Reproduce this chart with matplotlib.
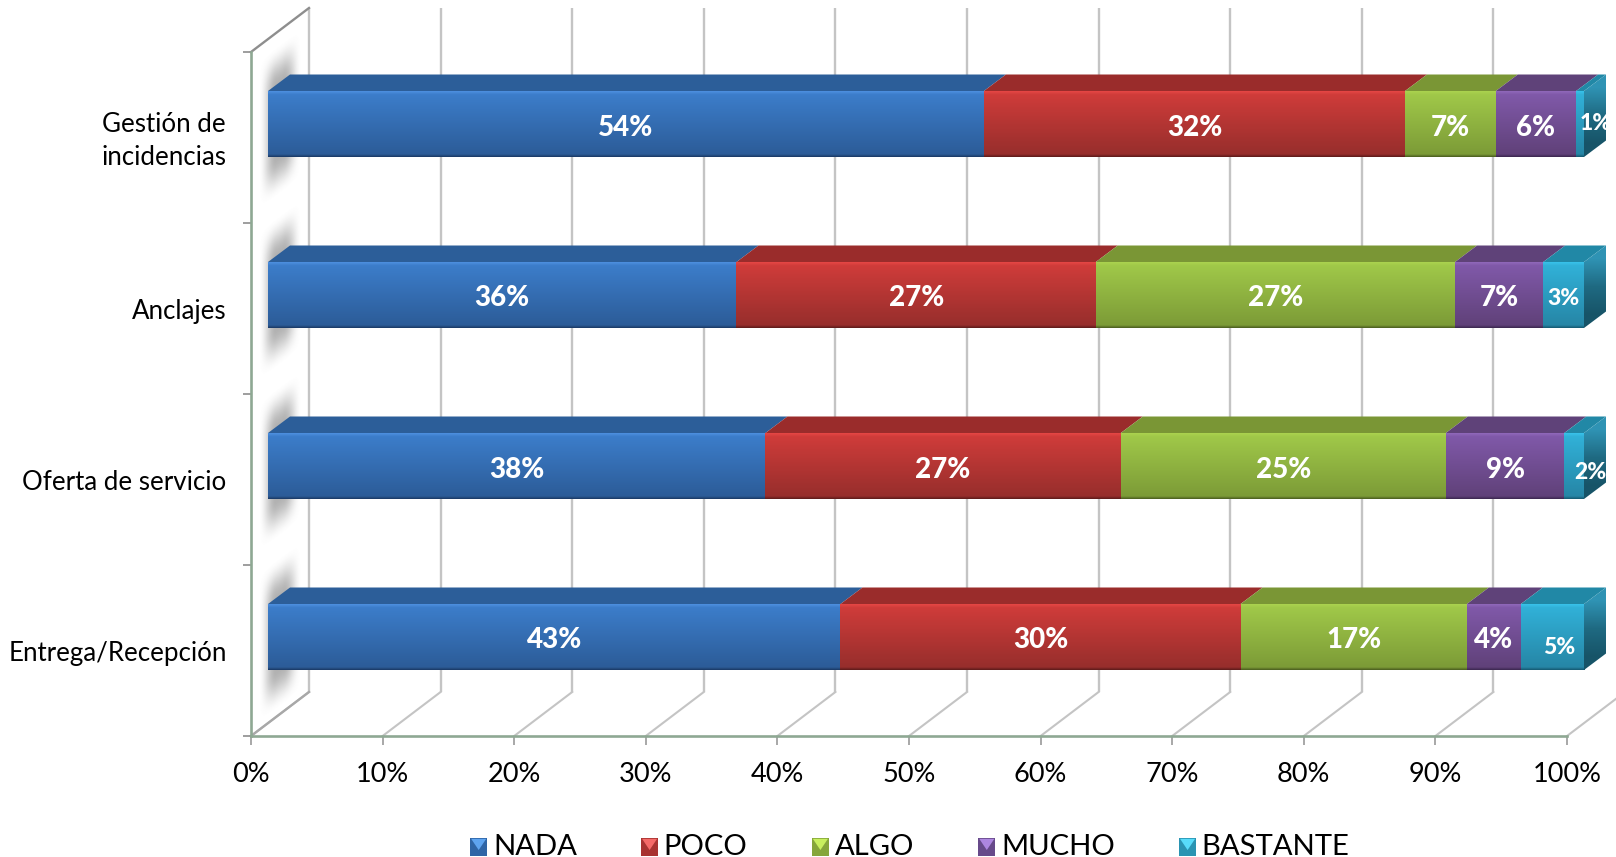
import numpy as np
import matplotlib
matplotlib.use("Agg")
import matplotlib.pyplot as plt
from matplotlib.colors import to_rgb
from matplotlib.legend_handler import HandlerBase
from matplotlib.patches import Patch, Polygon, Rectangle
from matplotlib.transforms import ScaledTranslation

plt.rcParams['font.family'] = ['Lato', 'DejaVu Sans']

categories = ['Entrega/Recepción', 'Oferta de servicio', 'Anclajes', 'Gestión de\nincidencias']
series_names = ['NADA', 'POCO', 'ALGO', 'MUCHO', 'BASTANTE']
nada = [43.5, 37.8, 35.6, 54.4]
poco = [30.4, 27.0, 27.3, 32.0]
algo = [17.2, 24.7, 27.3, 6.9]
mucho = [4.1, 9.0, 6.7, 6.1]
bastante = [4.8, 1.5, 3.1, 0.6]
nada_labels = ['43%', '38%', '36%', '54%']
poco_labels = ['30%', '27%', '27%', '32%']
algo_labels = ['17%', '25%', '27%', '7%']
mucho_labels = ['4%', '9%', '7%', '6%']
bastante_labels = ['5%', '2%', '3%', '1%']
x_ticks = [0, 10, 20, 30, 40, 50, 60, 70, 80, 90, 100]

values = [nada, poco, algo, mucho, bastante]
labels = [nada_labels, poco_labels, algo_labels, mucho_labels, bastante_labels]

W, H = 1616, 857
L_PX, R_PX, T_PX, B_PX = 251, 1567, 52, 736
PX_X = 100 / (R_PX - L_PX)
PX_Y = 4 / (B_PX - T_PX)

# front colours: highlight, top, bottom, edge; then top-face colour
styles = [
    ('#4d8fe0', '#3c7dca', '#2c5c98', '#1b3a66', '#2c5e99'),
    ('#e64745', '#cf3c3a', '#972e2c', '#5e1b1a', '#9a2c2b'),
    ('#abd24f', '#a0c849', '#7c9b37', '#4b5e20', '#7a9635'),
    ('#9068ba', '#8059a9', '#604179', '#3c2850', '#5f4279'),
    ('#38c2ea', '#31b1d8', '#2686a6', '#165a72', '#2188a6'),
]

fig = plt.figure(figsize=(W / 100, H / 100), dpi=100, facecolor='white')
ax = fig.add_axes([L_PX / W, 1 - B_PX / H, (R_PX - L_PX) / W, (B_PX - T_PX) / H])
ax.set_facecolor('none')

WALL_DX, WALL_DY = 58 * PX_X, 44 * PX_Y
BAR_OFF_X, BAR_OFF_Y = 17 * PX_X, 13.5 * PX_Y
BAR_DX, BAR_DY = 22 * PX_X, 16.5 * PX_Y
BAR_H = 66 * PX_Y


def gradient(stops, n=128):
    pos = [0, 0.05, 0.96, 1.0]
    rgb = np.array([to_rgb(s) for s in stops[:4]])
    t = np.linspace(0, 1, n)
    return np.stack([np.interp(t, pos, rgb[:, i]) for i in range(3)], axis=1)[:, None, :]


# walls and floor
for t in x_ticks:
    ax.plot([t + WALL_DX, t + WALL_DX], [-0.5 + WALL_DY, 3.5 + WALL_DY], color='#c4c4c4',
            lw=1.7, zorder=1, clip_on=False, solid_capstyle='butt')
    ax.plot([t, t + WALL_DX], [-0.5, -0.5 + WALL_DY], color='#c4c4c4',
            lw=1.5, zorder=1, clip_on=False)
ax.plot([0, WALL_DX], [3.5, 3.5 + WALL_DY], color='#8e8e8e', lw=1.7, zorder=1.5, clip_on=False)
ax.plot([0, WALL_DX], [-0.5, -0.5 + WALL_DY], color='#a8a8a8', lw=1.7, zorder=1.5, clip_on=False)

# soft shadow of each bar on the side wall
sx = np.arange(-8, 38, 1.0)
sy = np.arange(-92, 92, 1.0)
gx, gy = np.meshgrid(sx, sy)


def smooth(d, edge):
    v = np.clip(d / edge, 0, 1)
    return v * v * (3 - 2 * v)


u = np.abs(gx - 12)
v = np.abs(gy + 0.75 * gx - 4)
alpha = 0.55 * smooth(22 - u, 18) * smooth(76 - v, 40)
shadow = np.zeros(gx.shape + (4,))
shadow[..., :3] = 0.45
shadow[..., 3] = alpha
for i in range(len(categories)):
    cy = i + BAR_OFF_Y
    ax.imshow(shadow, extent=[BAR_OFF_X + sx[0] * PX_X, BAR_OFF_X + sx[-1] * PX_X,
                              cy - sy[-1] * PX_Y, cy - sy[0] * PX_Y],
              origin='upper', aspect='auto', interpolation='bilinear', zorder=2, clip_on=False)

# stacked bars
for i in range(len(categories)):
    cy = i + BAR_OFF_Y
    y0, y1 = cy - BAR_H / 2, cy + BAR_H / 2
    start = 0.0
    for s, vals in enumerate(values):
        val = vals[i]
        x0 = start + BAR_OFF_X
        x1 = x0 + val
        st = styles[s]
        ax.add_patch(Polygon([(x0, y1), (x1, y1), (x1 + BAR_DX, y1 + BAR_DY), (x0 + BAR_DX, y1 + BAR_DY)],
                             closed=True, fc=st[4], ec='none', zorder=3, clip_on=False))
        ax.imshow(gradient(st), extent=[x0, x1, y0, y1], origin='upper', aspect='auto',
                  interpolation='bilinear', zorder=4, clip_on=False)
        lx, ly = (x0 + x1) / 2, cy - 3.5 * PX_Y
        fs = 20
        if s == 4:
            fs = 16.5
            if val < 2:
                lx = x0 + val / 2 + 16 * PX_X
                ly = cy + (1 if i == 3 else -6) * PX_Y
            elif val > 4:
                lx += 7 * PX_X
                ly = cy - 11 * PX_Y
        ax.text(lx, ly, labels[s][i], color='white', fontsize=fs, fontweight='black',
                ha='center', va='center', zorder=7, clip_on=False)
        start += val
    # right end face
    xe = start + BAR_OFF_X
    side = Polygon([(xe, y0), (xe, y1), (xe + BAR_DX, y1 + BAR_DY), (xe + BAR_DX, y0 + BAR_DY)],
                   closed=True, fc='none', ec='none', zorder=5, clip_on=False,
                   transform=ax.transData)
    ax.add_patch(side)
    side_rgb = np.array([to_rgb('#2f93b4'), to_rgb('#1f6a82'), to_rgb('#175468')])[:, None, :]
    im = ax.imshow(side_rgb, extent=[xe, xe + BAR_DX, y0, y1 + BAR_DY], origin='upper',
                   aspect='auto', interpolation='bilinear', zorder=5)
    im.set_clip_box(fig.bbox)
    im.set_clip_path(side)

ax.set_xlim(0, 100)
ax.set_ylim(-0.5, 3.5)

for name in ('top', 'right'):
    ax.spines[name].set_visible(False)
for name in ('left', 'bottom'):
    ax.spines[name].set_color('#8ea893')
    ax.spines[name].set_linewidth(1.9)
    ax.spines[name].set_zorder(2.5)

ax.set_xticks(x_ticks)
ax.set_xticklabels([f'{t}%' for t in x_ticks], fontsize=19.5, color='black')
ax.tick_params(axis='x', length=6.5, width=1.2, color='#9a9a9a', pad=12)
ax.set_yticks([-0.5, 0.5, 1.5, 2.5, 3.5])
ax.set_yticklabels([])
ax.tick_params(axis='y', which='major', length=6, width=1.2, color='#8e8e8e')
ax.set_yticks(range(len(categories)), minor=True)
cat_labels = ax.set_yticklabels(categories, minor=True, fontsize=18.6, color='black', ma='center',
                                linespacing=1.38)
ax.tick_params(axis='y', which='minor', length=0, pad=17.5)
cat_labels[3].set_transform(cat_labels[3].get_transform()
                            + ScaledTranslation(0, 3 / 100, fig.dpi_scale_trans))


class PyramidHandler(HandlerBase):
    def create_artists(self, legend, orig, xd, yd, width, height, fontsize, trans):
        rect = Rectangle((xd, yd), width, height, fc=orig.get_facecolor(), ec='none', transform=trans)
        tri = Polygon([(xd + width * 0.05, yd + height * 0.97), (xd + width * 0.95, yd + height * 0.97),
                       (xd + width / 2, yd + height * 0.35)], closed=True,
                      fc=orig.get_edgecolor(), ec='none', transform=trans)
        return [rect, tri]


handles = [
    Patch(fc='#2f65a6', ec='#5ea4f0'),
    Patch(fc='#a83331', ec='#f46a68'),
    Patch(fc='#86a63b', ec='#c8ef5f'),
    Patch(fc='#674a8a', ec='#ad86e0'),
    Patch(fc='#2a94b2', ec='#58dcfa'),
]

fig.legend(handles, series_names, loc='center', bbox_to_anchor=(910 / W, 1 - 847 / H),
           ncols=5, frameon=False, fontsize=21.1, handlelength=0.57, handleheight=0.57,
           handletextpad=0.2, columnspacing=2.2, borderpad=0, borderaxespad=0,
           handler_map={Patch: PyramidHandler()})

fig.savefig('out.png', dpi=100, facecolor='white')
